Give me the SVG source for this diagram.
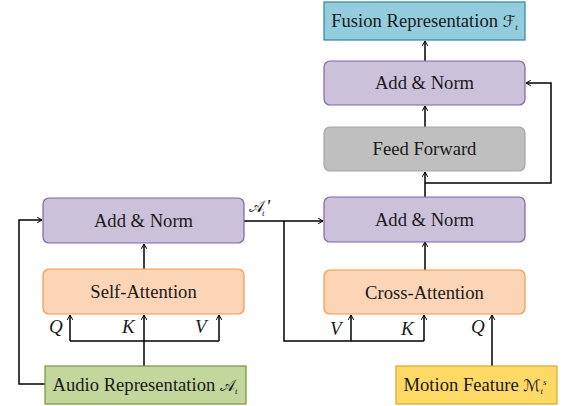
<svg xmlns="http://www.w3.org/2000/svg" width="563" height="406" viewBox="0 0 563 406">
  <defs>
    <marker id="arrow" viewBox="0 0 10 10" refX="9" refY="5" markerWidth="7" markerHeight="7" orient="auto" markerUnits="userSpaceOnUse">
      <polyline points="2,1 9,5 2,9" fill="none" stroke="#000" stroke-width="1.4"/>
    </marker>
    <style>
      .box { stroke-width: 1.2; }
      .norm { fill: #ccc1da; stroke: #8064a2; }
      .attn { fill: #fbd5b5; stroke: #f79646; }
      .ff { fill: #bfbfbf; stroke: #a6a6a6; }
      .audio { fill: #c3d69b; stroke: #77933c; }
      .motion { fill: #ffd966; stroke: #d6a82b; }
      .fusion { fill: #93cddd; stroke: #31859c; }
      text { font-family: "Liberation Serif", "Tinos", "Times New Roman", "DejaVu Serif", serif; }
      .lbl { font-size: 18.6px; fill: #1a1a1a; text-anchor: middle; }
      .qkv { font-size: 19px; font-style: italic; fill: #1a1a1a; }
      .math { font-family: "DejaVu Serif", "DejaVu Sans", serif; font-style: normal; }
      .sub { font-size: 9px; font-style: italic; }
      .wire { fill: none; stroke: #000; stroke-width: 1.5; }
    </style>
  </defs>

  <!-- connectors -->
  <g id="connectors">
    <!-- audio residual loop into left Add & Norm -->
    <polyline class="wire" points="45,384 19,384 19,220 42,220" marker-end="url(#arrow)"/>
    <!-- audio to self-attention Q/K/V -->
    <line class="wire" x1="144" y1="366" x2="144" y2="315" marker-end="url(#arrow)"/>
    <polyline class="wire" points="70,341 219,341"/>
    <line class="wire" x1="70" y1="341" x2="70" y2="315" marker-end="url(#arrow)"/>
    <line class="wire" x1="219" y1="341" x2="219" y2="315" marker-end="url(#arrow)"/>
    <!-- self-attention to Add & Norm -->
    <line class="wire" x1="144" y1="269" x2="144" y2="244" marker-end="url(#arrow)"/>
    <!-- A' to right Add & Norm and to cross-attention K/V -->
    <polyline class="wire" points="244,221 323,221" marker-end="url(#arrow)"/>
    <polyline class="wire" points="284,221 284,341 424,341"/>
    <line class="wire" x1="351" y1="341" x2="351" y2="315" marker-end="url(#arrow)"/>
    <line class="wire" x1="424" y1="341" x2="424" y2="315" marker-end="url(#arrow)"/>
    <!-- motion feature to cross-attention Q -->
    <line class="wire" x1="492" y1="366" x2="492" y2="315" marker-end="url(#arrow)"/>
    <!-- cross-attention to Add & Norm -->
    <line class="wire" x1="425" y1="270" x2="425" y2="242" marker-end="url(#arrow)"/>
    <!-- Add & Norm to feed forward -->
    <line class="wire" x1="425" y1="197" x2="425" y2="172" marker-end="url(#arrow)"/>
    <!-- residual around feed forward -->
    <polyline class="wire" points="425,183 551,183 551,83 526,83" marker-end="url(#arrow)"/>
    <!-- feed forward to Add & Norm -->
    <line class="wire" x1="425" y1="127" x2="425" y2="106" marker-end="url(#arrow)"/>
    <!-- Add & Norm to fusion output -->
    <line class="wire" x1="425" y1="61" x2="425" y2="41" marker-end="url(#arrow)"/>
  </g>

  <!-- QKV labels -->
  <g id="qkv-labels">
    <text class="qkv" x="49" y="333">Q</text>
    <text class="qkv" x="122" y="333">K</text>
    <text class="qkv" x="195" y="333">V</text>
    <text class="qkv" x="330" y="335">V</text>
    <text class="qkv" x="401" y="335">K</text>
    <text class="qkv" x="471" y="333">Q</text>
    <!-- A'_t -->
    <text class="qkv" x="249" y="212"><tspan class="math" font-size="16">𝒜</tspan><tspan class="sub" dx="-2" dy="4">t</tspan></text>
    <text x="266" y="213" font-size="19" font-style="italic" fill="#1a1a1a">'</text>
  </g>

  <g id="norm-left">
    <rect class="box norm" x="43" y="198" width="201" height="45" rx="6"/>
    <text class="lbl" x="143.5" y="227">Add &amp; Norm</text>
  </g>
  <g id="self-attention">
    <rect class="box attn" x="43" y="269" width="201" height="45" rx="6"/>
    <text class="lbl" x="143.5" y="298">Self-Attention</text>
  </g>
  <g id="audio">
    <rect class="box audio" x="45" y="366" width="201" height="38"/>
    <text class="lbl" x="145" y="391">Audio Representation <tspan class="math" font-size="16">𝒜</tspan><tspan class="sub" dy="3">t</tspan></text>
  </g>
  <g id="norm-cross">
    <rect class="box norm" x="324" y="197" width="201" height="45" rx="6"/>
    <text class="lbl" x="424.5" y="226">Add &amp; Norm</text>
  </g>
  <g id="cross-attention">
    <rect class="box attn" x="324" y="270" width="201" height="44" rx="6"/>
    <text class="lbl" x="424.5" y="299">Cross-Attention</text>
  </g>
  <g id="motion">
    <rect class="box motion" x="396" y="366" width="161" height="38"/>
    <text class="lbl" x="475" y="391">Motion Feature <tspan class="math" font-size="16">ℳ</tspan><tspan class="sub" dy="3">t</tspan><tspan class="sub" dy="-9">s</tspan></text>
  </g>
  <g id="feed-forward">
    <rect class="box ff" x="324" y="127" width="201" height="44" rx="6"/>
    <text class="lbl" x="424.5" y="155">Feed Forward</text>
  </g>
  <g id="norm-top">
    <rect class="box norm" x="324" y="61" width="201" height="44" rx="6"/>
    <text class="lbl" x="424.5" y="89">Add &amp; Norm</text>
  </g>
  <g id="fusion">
    <rect class="box fusion" x="324" y="2" width="201" height="38"/>
    <text class="lbl" x="424.5" y="27">Fusion Representation <tspan class="math" font-size="16">ℱ</tspan><tspan class="sub" dy="3">t</tspan></text>
  </g>
</svg>
